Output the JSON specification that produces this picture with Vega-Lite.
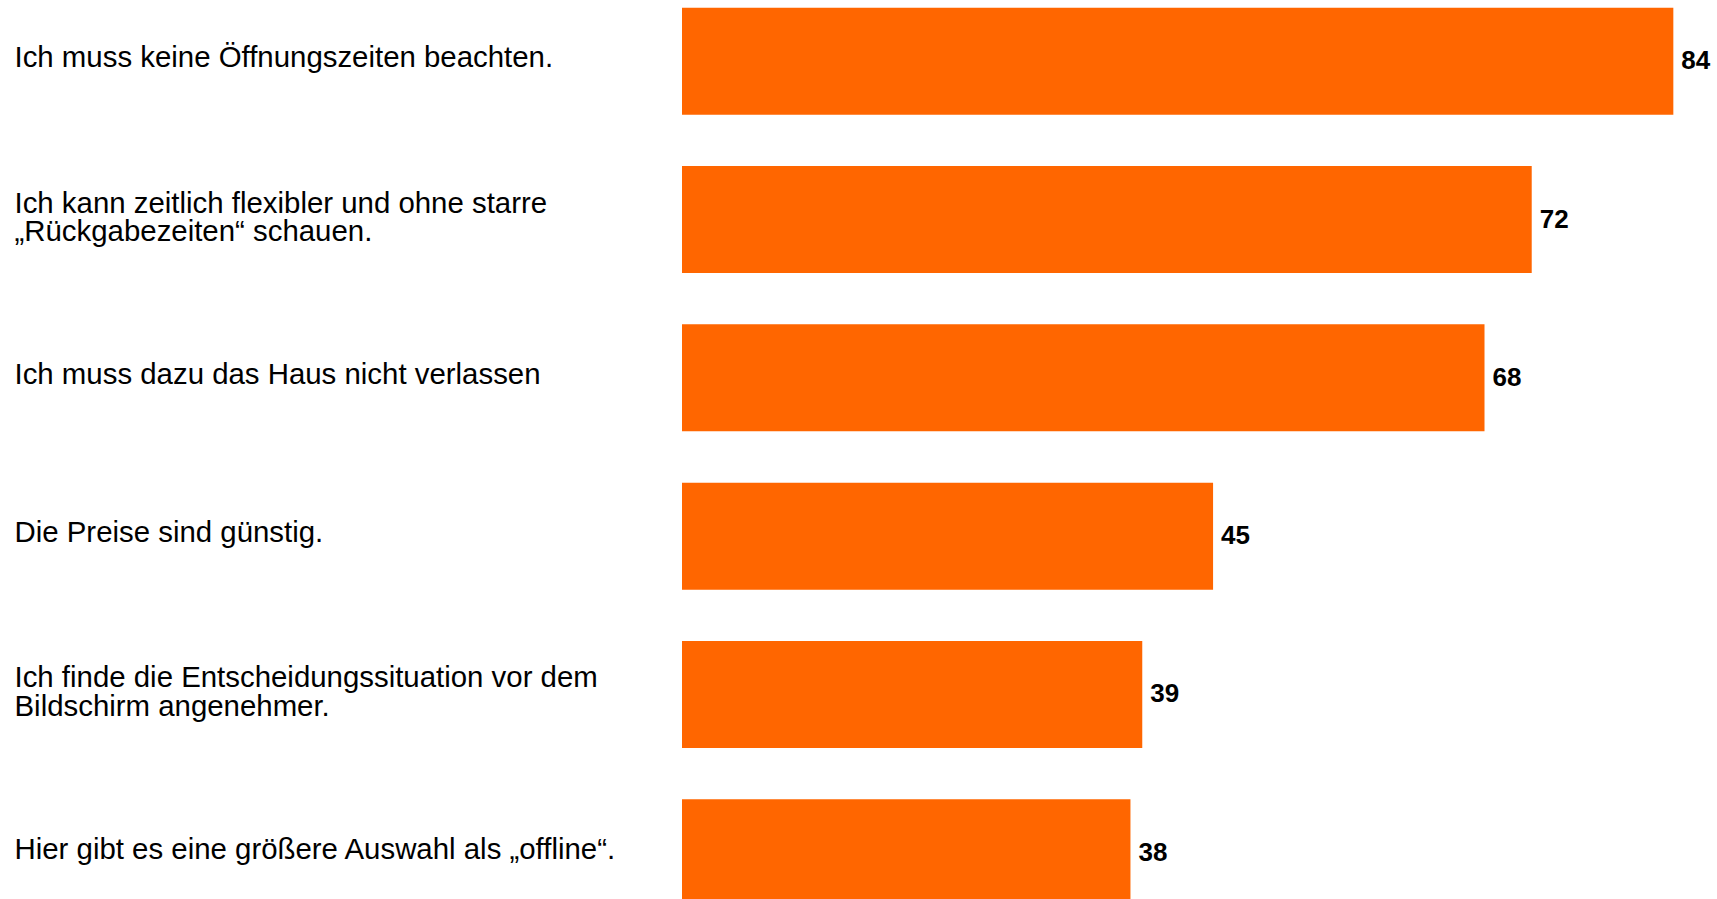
{
  "$schema": "https://vega.github.io/schema/vega-lite/v6.json",
  "autosize": "none",
  "width": 1035,
  "height": 899,
  "padding": {"left": 682, "top": 0, "right": 0, "bottom": 0},
  "background": "white",
  "config": {"view": {"stroke": null}, "font": "Liberation Sans"},
  "data": {
    "values": [
      {"aussage": "Ich muss keine Öffnungszeiten beachten.", "wert": 84},
      {"aussage": "Ich kann zeitlich flexibler und ohne starre|„Rückgabezeiten“ schauen.", "wert": 72},
      {"aussage": "Ich muss dazu das Haus nicht verlassen", "wert": 68},
      {"aussage": "Die Preise sind günstig.", "wert": 45},
      {"aussage": "Ich finde die Entscheidungssituation vor dem|Bildschirm angenehmer.", "wert": 39},
      {"aussage": "Hier gibt es eine größere Auswahl als „offline“.", "wert": 38}
    ]
  },
  "encoding": {
    "y": {
      "field": "aussage",
      "type": "nominal",
      "sort": null,
      "scale": {"range": [0, 914], "paddingInner": 0.324, "paddingOuter": 0.049},
      "axis": {
        "title": null,
        "domain": false,
        "ticks": false,
        "tickSize": 0,
        "labelAlign": "left",
        "labelBaseline": "middle",
        "labelPadding": 668,
        "labelOffset": {"condition": {"test": "indexof(datum.label, '|') >= 0", "value": -16}, "value": -3},
        "labelFontSize": 29.4,
        "labelFont": "Liberation Sans",
        "labelColor": "black",
        "labelLineHeight": 28.5,
        "labelLimit": 0,
        "labelExpr": "split(datum.label, '|')"
      }
    },
    "x": {
      "field": "wert",
      "type": "quantitative",
      "scale": {"domain": [0, 87.7], "nice": false, "zero": true},
      "axis": null
    }
  },
  "layer": [
    {"mark": {"type": "bar", "color": "#FF6600", "clip": true}},
    {
      "mark": {
        "type": "text",
        "align": "left",
        "baseline": "middle",
        "dx": 8,
        "fontSize": 26,
        "fontWeight": "bold",
        "font": "Liberation Sans",
        "color": "black"
      },
      "encoding": {"text": {"field": "wert", "type": "quantitative"}}
    }
  ]
}
